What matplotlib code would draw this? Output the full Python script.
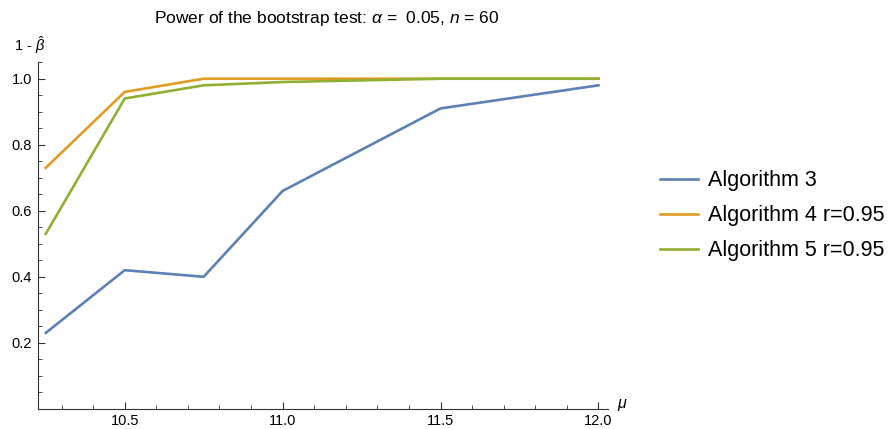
import matplotlib.pyplot as plt
from matplotlib.ticker import MultipleLocator

plt.rcParams["font.family"] = ["Liberation Sans", "DejaVu Sans"]
plt.rcParams["mathtext.fontset"] = "custom"
plt.rcParams["mathtext.it"] = "Liberation Sans:italic"
plt.rcParams["mathtext.rm"] = "Liberation Sans"

mu = [10.25, 10.5, 10.75, 11.0, 11.5, 12.0]
alg3 = [0.23, 0.42, 0.40, 0.66, 0.91, 0.98]
alg4 = [0.73, 0.96, 1.00, 1.00, 1.00, 1.00]
alg5 = [0.53, 0.94, 0.98, 0.99, 1.00, 1.00]
labels = ["Algorithm 3", "Algorithm 4 r=0.95", "Algorithm 5 r=0.95"]
colors = ["#5E81B5", "#E19C24", "#8FB032"]

fig = plt.figure(figsize=(8.94, 4.29), dpi=100)
ax = fig.add_axes([0.042, 0.047, 0.638, 0.808])

for y, lab, c in zip([alg3, alg4, alg5], labels, colors):
    ax.plot(mu, y, color=c, lw=1.9, label=lab)

ax.set_xlim(10.224, 12.03)
ax.set_ylim(0, 1.05)
ax.spines["top"].set_visible(False)
ax.spines["right"].set_visible(False)
for s in ["left", "bottom"]:
    ax.spines[s].set_linewidth(0.8)
    ax.spines[s].set_color("#333333")

ax.xaxis.set_major_locator(MultipleLocator(0.5))
ax.xaxis.set_minor_locator(MultipleLocator(0.1))
ax.yaxis.set_major_locator(MultipleLocator(0.2))
ax.yaxis.set_minor_locator(MultipleLocator(0.05))
ax.set_yticks([0.2, 0.4, 0.6, 0.8, 1.0])
ax.set_xticks([10.5, 11.0, 11.5, 12.0])
ax.tick_params(which="major", direction="in", length=5, width=0.8, labelsize=10.5, color="#333333", pad=4)
ax.tick_params(which="minor", direction="in", length=3, width=0.6, color="#333333")
ax.yaxis.set_major_formatter(plt.FuncFormatter(lambda v, p: f"{v:.1f}"))
ax.xaxis.set_major_formatter(plt.FuncFormatter(lambda v, p: f"{v:.1f}"))

fig.text(0.366, 0.957, r"Power of the bootstrap test: $\alpha$ =  0.05, $n$ = 60",
         ha="center", va="center", fontsize=12.5)
fig.text(0.033, 0.895, r"1 - $\hat{\beta}$", ha="center", va="center", fontsize=10.5)
fig.text(0.690, 0.055, r"$\mu$", ha="left", va="center", fontsize=11.5)

fig.legend(loc="center left", bbox_to_anchor=(0.717, 0.497), frameon=False,
           fontsize=15.5, handlelength=1.75, handletextpad=0.45, labelspacing=0.66)

fig.savefig("out.png", dpi=100)
